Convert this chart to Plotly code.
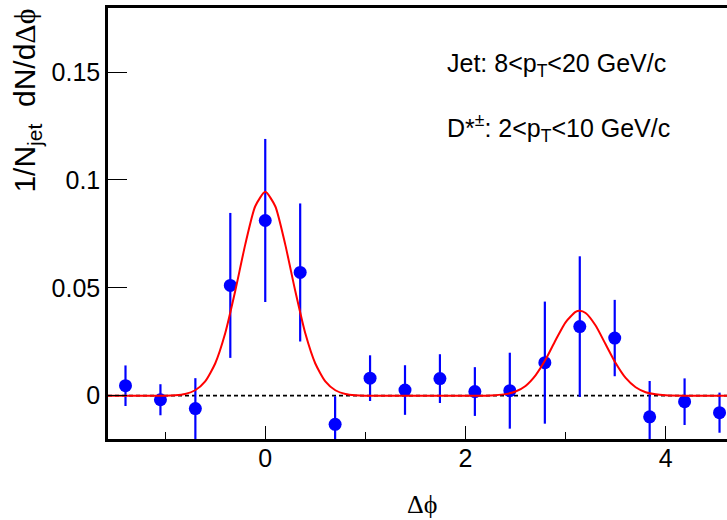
import plotly.graph_objects as go

# measured points (bin centres of 18 bins over -pi/2 .. 3pi/2)
dphi = [-1.396, -1.047, -0.698, -0.349, 0.0, 0.349, 0.698, 1.047, 1.396,
        1.745, 2.094, 2.443, 2.793, 3.142, 3.491, 3.840, 4.189, 4.538]
yield_vals = [0.0046, -0.0019, -0.0060, 0.0511, 0.0812, 0.0571, -0.0133, 0.0081, 0.0026,
              0.0079, 0.0019, 0.0023, 0.0153, 0.0320, 0.0267, -0.0098, -0.0028, -0.0079]
yield_err = [0.0094, 0.0072, 0.0141, 0.0336, 0.0378, 0.0320, 0.0130, 0.0106, 0.0115,
             0.0113, 0.0113, 0.0176, 0.0283, 0.0326, 0.0177, 0.0166, 0.0108, 0.0093]

# fit curve
fit_x = [-1.5708, -1.2, -1.0, -0.9, -0.8, -0.7, -0.6, -0.5, -0.4, -0.3, -0.2, -0.1, 0.0,
         0.1, 0.2, 0.3, 0.4, 0.5, 0.6, 0.7, 0.8, 0.9, 1.0, 1.2, 1.6, 2.0, 2.2,
         2.3, 2.4, 2.5, 2.6, 2.7, 2.8, 2.9, 3.0, 3.1, 3.14, 3.2, 3.3, 3.4, 3.5,
         3.6, 3.7, 3.8, 3.9, 4.0, 4.2, 4.712]
fit_y = [0.0, 0.0, 0.0, 0.0002, 0.0008, 0.0025, 0.0066, 0.0149, 0.0289, 0.0485, 0.0700, 0.0878, 0.0945,
         0.0878, 0.0700, 0.0485, 0.0289, 0.0149, 0.0066, 0.0025, 0.0008, 0.0002, 0.0, 0.0, 0.0, 0.0, 0.0,
         0.0002, 0.0007, 0.0019, 0.0045, 0.0094, 0.0167, 0.0257, 0.0340, 0.0388, 0.0393, 0.0383, 0.0325, 0.0238, 0.0151,
         0.0082, 0.0039, 0.0016, 0.0006, 0.0002, 0.0, 0.0]

x_ticks = [0, 2, 4]
y_ticks = [0, 0.05, 0.1, 0.15]
y_ticktext = ["0", "0.05", "0.1", "0.15"]

SANS = "Liberation Sans, Arial, sans-serif"
SERIF = "Liberation Serif, Times New Roman, serif"

fig = go.Figure()

fig.add_shape(type="line", xref="x", yref="y", x0=-1.5708, x1=4.712, y0=0, y1=0,
              line=dict(color="black", width=1.6, dash="4px,3px"), layer="below")

fig.add_trace(go.Scatter(
    x=dphi, y=yield_vals, mode="markers",
    marker=dict(color="#0000ff", size=13),
    error_y=dict(type="data", array=yield_err, color="#0000ff", thickness=2.2, width=0),
    showlegend=False,
))
fig.add_trace(go.Scatter(
    x=fit_x, y=fit_y, mode="lines", line=dict(color="#ff0000", width=2, shape="spline", smoothing=0.6),
    showlegend=False,
))

fig.update_layout(
    width=727, height=520,
    margin=dict(l=108, r=0, t=8, b=81),
    paper_bgcolor="white", plot_bgcolor="white",
    font=dict(family=SANS, size=25, color="black"),
)
fig.update_xaxes(
    range=[-1.5708, 4.6126], showgrid=False, zeroline=False,
    showline=True, linecolor="black", linewidth=2.5, mirror=True,
    ticks="inside", ticklen=13, tickwidth=1, tickcolor="black",
    tickvals=x_ticks, ticklabelstandoff=-5,
    minor=dict(ticks="inside", ticklen=7, tickwidth=1, tickcolor="black", tickvals=[-1, 1, 3]),
)
fig.update_yaxes(
    range=[-0.0201, 0.1797], showgrid=False, zeroline=False,
    showline=True, linecolor="black", linewidth=2.5, mirror=False,
    ticks="inside", ticklen=19, tickwidth=1, tickcolor="black",
    tickvals=y_ticks, ticktext=y_ticktext, ticklabelstandoff=0,
)

fig.add_annotation(
    text="1/N<sub>jet</sub>  dN/d<span style='font-family:" + SERIF + "'>Δϕ</span>",
    textangle=-90, xref="paper", yref="paper", x=-0.131, y=0.785,
    xanchor="center", yanchor="middle", showarrow=False, font=dict(size=30),
)
fig.add_annotation(
    text="Δϕ", xref="x", yref="paper", x=1.563, y=-0.152,
    xanchor="center", yanchor="middle", showarrow=False, font=dict(family=SERIF, size=26),
)
fig.add_annotation(
    text="Jet: 8<p<sub>T</sub><20 GeV/c", xref="x", yref="paper", x=1.80, y=0.868,
    xanchor="left", yanchor="middle", showarrow=False, font=dict(size=25),
)
fig.add_annotation(
    text="D*<sup>±</sup>: 2<p<sub>T</sub><10 GeV/c", xref="x", yref="paper", x=1.80, y=0.722,
    xanchor="left", yanchor="middle", showarrow=False, font=dict(size=25),
)

fig.write_html("out.html", config={"displayModeBar": False},
               post_script="document.body.style.margin='0';")
